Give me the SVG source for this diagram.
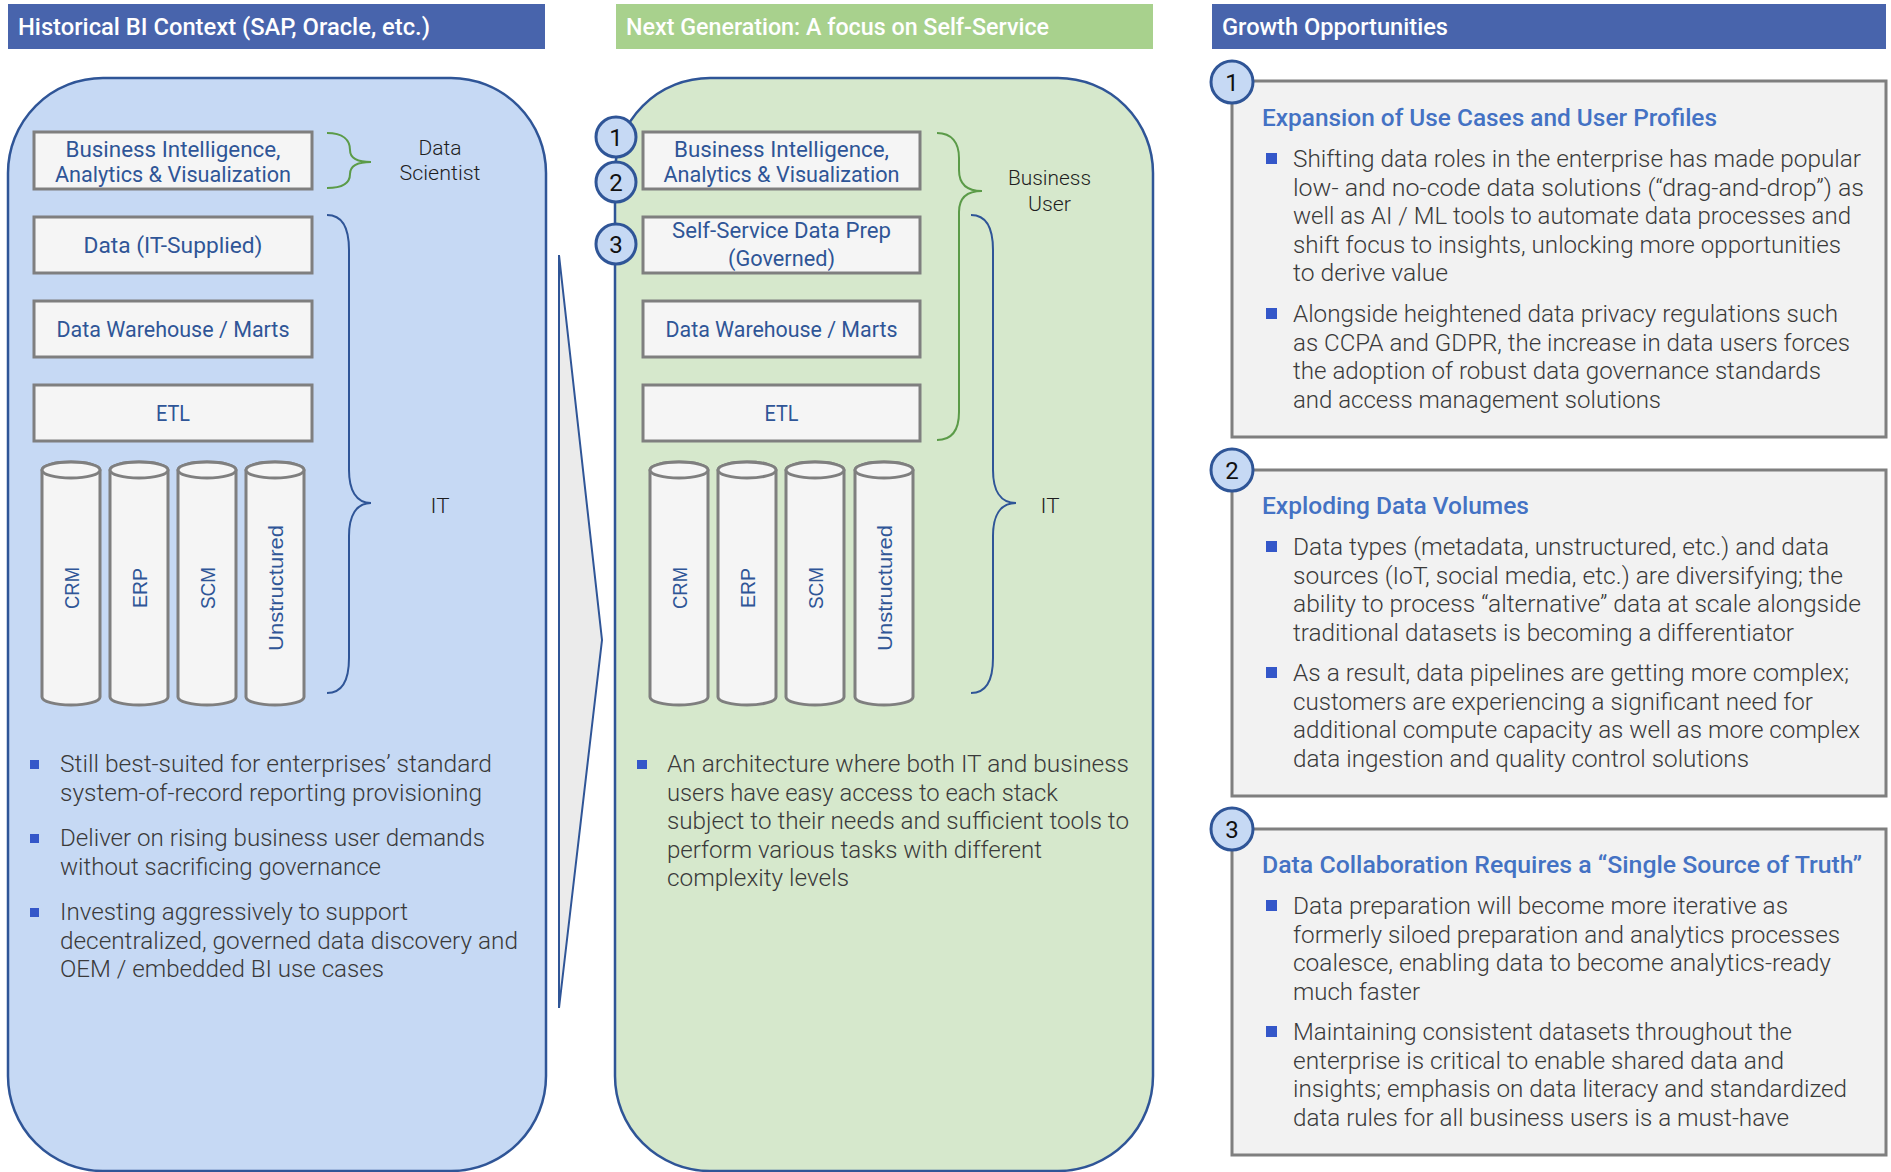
<svg xmlns="http://www.w3.org/2000/svg" width="1891" height="1172" viewBox="0 0 1891 1172">
<defs>
<style>
text{font-family:Roboto,"Liberation Sans",sans-serif}
.hdr{fill:#fff;font-size:24px;font-weight:500}
.panel{stroke:#2f5597;stroke-width:2.5}
.box{fill:#f5f5f5;stroke:#7f7f7f;stroke-width:3}
.lbl{fill:#2f5597;font-size:22.5px;text-anchor:middle}
.cyl{fill:#f5f5f5;stroke:#7f7f7f;stroke-width:3}
.cyt{fill:#2f5597;font-size:21px;text-anchor:middle;font-family:"Liberation Sans",Arial,sans-serif}
.role{fill:#1e1e1e;font-size:21px;font-weight:300;text-anchor:middle}
.body{fill:#3a3a3a;font-size:24px;font-weight:300}
.sq{fill:#3457c9}
.gbr{fill:none;stroke:#5b9b48;stroke-width:2}
.bbr{fill:none;stroke:#2f5597;stroke-width:2}
.num{fill:#c6d9f4;stroke:#2f5597;stroke-width:3}
.numt{fill:#111;font-size:24px;text-anchor:middle}
.obox{fill:#f2f2f2;stroke:#7f7f7f;stroke-width:3}
.ttl{fill:#4472c4;font-size:24px;font-weight:500}
</style>
</defs>
<rect width="1891" height="1172" fill="#fff"/>

<g id="header-historical">
<rect x="8" y="4" width="537" height="45" fill="#4864ac"/>
<text class="hdr" x="18" y="35" textLength="412" lengthAdjust="spacingAndGlyphs">Historical BI Context (SAP, Oracle, etc.)</text>
</g>
<g id="header-nextgen">
<rect x="616" y="4" width="537" height="45" fill="#a8d18d"/>
<text class="hdr" x="626" y="35" textLength="423" lengthAdjust="spacingAndGlyphs">Next Generation: A focus on Self-Service</text>
</g>
<g id="header-growth">
<rect x="1212" y="4" width="674" height="45" fill="#4864ac"/>
<text class="hdr" x="1222" y="35" textLength="226" lengthAdjust="spacingAndGlyphs">Growth Opportunities</text>
</g>

<g id="panel-historical">
<rect class="panel" x="8" y="78" width="538" height="1093" rx="95" ry="95" fill="#c6d9f4"/>
</g>
<g id="panel-nextgen">
<rect class="panel" x="615" y="78" width="538" height="1093" rx="95" ry="95" fill="#d6e8cc"/>
</g>

<g id="transition-arrow">
<polygon points="559,255 602,640 559,1008" fill="#ebebeb" stroke="#2f5597" stroke-width="2" stroke-linejoin="miter"/>
</g>

<!-- Left stack -->
<g id="l-bi">
<rect class="box" x="34" y="132" width="278" height="57"/>
<text class="lbl" x="173" y="157" textLength="215" lengthAdjust="spacingAndGlyphs">Business Intelligence,</text>
<text class="lbl" x="173" y="182" textLength="236" lengthAdjust="spacingAndGlyphs">Analytics &amp; Visualization</text>
</g>
<g id="l-data">
<rect class="box" x="34" y="217" width="278" height="56"/>
<text class="lbl" x="173" y="253" textLength="179" lengthAdjust="spacingAndGlyphs">Data (IT-Supplied)</text>
</g>
<g id="l-dw">
<rect class="box" x="34" y="301" width="278" height="56"/>
<text class="lbl" x="173" y="337" textLength="233" lengthAdjust="spacingAndGlyphs">Data Warehouse / Marts</text>
</g>
<g id="l-etl">
<rect class="box" x="34" y="385" width="278" height="56"/>
<text class="lbl" x="173" y="421" textLength="34" lengthAdjust="spacingAndGlyphs">ETL</text>
</g>
<g id="l-crm">
<path class="cyl" d="M42,470 L42,697 A29,8 0 0 0 100,697 L100,470 A29,8 0 0 0 42,470 Z"/>
<ellipse class="cyl" cx="71" cy="470" rx="29" ry="8"/>
<text class="cyt" transform="translate(71,588) rotate(-90)" y="7.5" textLength="42" lengthAdjust="spacingAndGlyphs">CRM</text>
</g>
<g id="l-erp">
<path class="cyl" d="M110,470 L110,697 A29,8 0 0 0 168,697 L168,470 A29,8 0 0 0 110,470 Z"/>
<ellipse class="cyl" cx="139" cy="470" rx="29" ry="8"/>
<text class="cyt" transform="translate(139,588) rotate(-90)" y="7.5" textLength="40" lengthAdjust="spacingAndGlyphs">ERP</text>
</g>
<g id="l-scm">
<path class="cyl" d="M178,470 L178,697 A29,8 0 0 0 236,697 L236,470 A29,8 0 0 0 178,470 Z"/>
<ellipse class="cyl" cx="207" cy="470" rx="29" ry="8"/>
<text class="cyt" transform="translate(207,588) rotate(-90)" y="7.5" textLength="42" lengthAdjust="spacingAndGlyphs">SCM</text>
</g>
<g id="l-unstructured">
<path class="cyl" d="M246,470 L246,697 A29,8 0 0 0 304,697 L304,470 A29,8 0 0 0 246,470 Z"/>
<ellipse class="cyl" cx="275" cy="470" rx="29" ry="8"/>
<text class="cyt" transform="translate(275,588) rotate(-90)" y="7.5" textLength="126" lengthAdjust="spacingAndGlyphs">Unstructured</text>
</g>
<g id="l-roles">
<path class="gbr" d="M327,133 C343,133 350,140 350,150 C350,157 356,162 371,162 C356,162 350,167 350,174 C350,183 343,188 327,188"/>
<path class="bbr" d="M327,215 C343,215 349,228 349,250 L349,470 C349,490 356,503 371,503 C356,503 349,516 349,536 L349,658 C349,680 343,693 327,693"/>
<text class="role" x="440" y="155" textLength="43" lengthAdjust="spacingAndGlyphs">Data</text>
<text class="role" x="440" y="180" textLength="81" lengthAdjust="spacingAndGlyphs">Scientist</text>
<text class="role" x="440" y="513" textLength="19" lengthAdjust="spacingAndGlyphs">IT</text>
</g>
<g id="l-bullets">
<rect class="sq" x="30" y="760" width="9" height="9"/>
<rect class="sq" x="30" y="834" width="9" height="9"/>
<rect class="sq" x="30" y="908" width="9" height="9"/>
<text class="body" x="60" y="772" textLength="432" lengthAdjust="spacingAndGlyphs">Still best-suited for enterprises’ standard</text>
<text class="body" x="60" y="800.5" textLength="422" lengthAdjust="spacingAndGlyphs">system-of-record reporting provisioning</text>
<text class="body" x="60" y="846" textLength="425" lengthAdjust="spacingAndGlyphs">Deliver on rising business user demands</text>
<text class="body" x="60" y="874.5" textLength="321" lengthAdjust="spacingAndGlyphs">without sacrificing governance</text>
<text class="body" x="60" y="920" textLength="348" lengthAdjust="spacingAndGlyphs">Investing aggressively to support</text>
<text class="body" x="60" y="948.5" textLength="458" lengthAdjust="spacingAndGlyphs">decentralized, governed data discovery and</text>
<text class="body" x="60" y="977" textLength="324" lengthAdjust="spacingAndGlyphs">OEM / embedded BI use cases</text>
</g>

<!-- Middle stack -->
<g id="m-bi">
<rect class="box" x="643" y="132" width="277" height="57"/>
<text class="lbl" x="781.5" y="157" textLength="215" lengthAdjust="spacingAndGlyphs">Business Intelligence,</text>
<text class="lbl" x="781.5" y="182" textLength="236" lengthAdjust="spacingAndGlyphs">Analytics &amp; Visualization</text>
</g>
<g id="m-prep">
<rect class="box" x="643" y="217" width="277" height="56"/>
<text class="lbl" x="781.5" y="238" textLength="219" lengthAdjust="spacingAndGlyphs">Self-Service Data Prep</text>
<text class="lbl" x="781.5" y="266" textLength="107" lengthAdjust="spacingAndGlyphs">(Governed)</text>
</g>
<g id="m-dw">
<rect class="box" x="643" y="301" width="277" height="56"/>
<text class="lbl" x="781.5" y="337" textLength="232" lengthAdjust="spacingAndGlyphs">Data Warehouse / Marts</text>
</g>
<g id="m-etl">
<rect class="box" x="643" y="385" width="277" height="56"/>
<text class="lbl" x="781.5" y="421" textLength="34" lengthAdjust="spacingAndGlyphs">ETL</text>
</g>
<g id="m-crm">
<path class="cyl" d="M650,470 L650,697 A29,8 0 0 0 708,697 L708,470 A29,8 0 0 0 650,470 Z"/>
<ellipse class="cyl" cx="679" cy="470" rx="29" ry="8"/>
<text class="cyt" transform="translate(679,588) rotate(-90)" y="7.5" textLength="42" lengthAdjust="spacingAndGlyphs">CRM</text>
</g>
<g id="m-erp">
<path class="cyl" d="M718,470 L718,697 A29,8 0 0 0 776,697 L776,470 A29,8 0 0 0 718,470 Z"/>
<ellipse class="cyl" cx="747" cy="470" rx="29" ry="8"/>
<text class="cyt" transform="translate(747,588) rotate(-90)" y="7.5" textLength="40" lengthAdjust="spacingAndGlyphs">ERP</text>
</g>
<g id="m-scm">
<path class="cyl" d="M786,470 L786,697 A29,8 0 0 0 844,697 L844,470 A29,8 0 0 0 786,470 Z"/>
<ellipse class="cyl" cx="815" cy="470" rx="29" ry="8"/>
<text class="cyt" transform="translate(815,588) rotate(-90)" y="7.5" textLength="42" lengthAdjust="spacingAndGlyphs">SCM</text>
</g>
<g id="m-unstructured">
<path class="cyl" d="M855,470 L855,697 A29,8 0 0 0 913,697 L913,470 A29,8 0 0 0 855,470 Z"/>
<ellipse class="cyl" cx="884" cy="470" rx="29" ry="8"/>
<text class="cyt" transform="translate(884,588) rotate(-90)" y="7.5" textLength="126" lengthAdjust="spacingAndGlyphs">Unstructured</text>
</g>
<g id="m-roles">
<path class="gbr" d="M937,133 C952,133 959,143 959,158 L959,170 C959,184 966,191 982,191 C966,191 959,198 959,212 L959,412 C959,430 952,440 937,440"/>
<path class="bbr" d="M971,215 C987,215 993,228 993,250 L993,470 C993,490 1000,503 1016,503 C1000,503 993,516 993,536 L993,658 C993,680 987,693 971,693"/>
<text class="role" x="1049.5" y="185" textLength="83" lengthAdjust="spacingAndGlyphs">Business</text>
<text class="role" x="1049.5" y="211" textLength="43" lengthAdjust="spacingAndGlyphs">User</text>
<text class="role" x="1050" y="513" textLength="19" lengthAdjust="spacingAndGlyphs">IT</text>
</g>
<g id="m-markers">
<circle class="num" cx="616" cy="137" r="20"/>
<text class="numt" x="616" y="145.5">1</text>
<circle class="num" cx="616" cy="182" r="20"/>
<text class="numt" x="616" y="190.5">2</text>
<circle class="num" cx="616" cy="244" r="20"/>
<text class="numt" x="616" y="252.5">3</text>
</g>
<g id="m-bullets">
<rect class="sq" x="637" y="760" width="10" height="9"/>
<text class="body" x="667" y="772" textLength="462" lengthAdjust="spacingAndGlyphs">An architecture where both IT and business</text>
<text class="body" x="667" y="800.5" textLength="391" lengthAdjust="spacingAndGlyphs">users have easy access to each stack</text>
<text class="body" x="667" y="829" textLength="462" lengthAdjust="spacingAndGlyphs">subject to their needs and sufficient tools to</text>
<text class="body" x="667" y="857.5" textLength="375" lengthAdjust="spacingAndGlyphs">perform various tasks with different</text>
<text class="body" x="667" y="886" textLength="182" lengthAdjust="spacingAndGlyphs">complexity levels</text>
</g>

<!-- Right opportunities -->
<g id="opp-1">
<rect class="obox" x="1232" y="81" width="654" height="356"/>
<circle class="num" cx="1232" cy="82" r="21"/>
<text class="numt" x="1232" y="90.5">1</text>
<text class="ttl" x="1262" y="126" textLength="455" lengthAdjust="spacingAndGlyphs">Expansion of Use Cases and User Profiles</text>
<rect class="sq" x="1266" y="153" width="11" height="11"/>
<rect class="sq" x="1266" y="308" width="11" height="11"/>
<text class="body" x="1293" y="167" textLength="568" lengthAdjust="spacingAndGlyphs">Shifting data roles in the enterprise has made popular</text>
<text class="body" x="1293" y="195.5" textLength="571" lengthAdjust="spacingAndGlyphs">low- and no-code data solutions (“drag-and-drop”) as</text>
<text class="body" x="1293" y="224" textLength="558" lengthAdjust="spacingAndGlyphs">well as AI / ML tools to automate data processes and</text>
<text class="body" x="1293" y="252.5" textLength="548" lengthAdjust="spacingAndGlyphs">shift focus to insights, unlocking more opportunities</text>
<text class="body" x="1293" y="281" textLength="155" lengthAdjust="spacingAndGlyphs">to derive value</text>
<text class="body" x="1293" y="322" textLength="545" lengthAdjust="spacingAndGlyphs">Alongside heightened data privacy regulations such</text>
<text class="body" x="1293" y="350.5" textLength="557" lengthAdjust="spacingAndGlyphs">as CCPA and GDPR, the increase in data users forces</text>
<text class="body" x="1293" y="379" textLength="528" lengthAdjust="spacingAndGlyphs">the adoption of robust data governance standards</text>
<text class="body" x="1293" y="407.5" textLength="368" lengthAdjust="spacingAndGlyphs">and access management solutions</text>
</g>
<g id="opp-2">
<rect class="obox" x="1232" y="470" width="654" height="326"/>
<circle class="num" cx="1232" cy="470" r="21"/>
<text class="numt" x="1232" y="478.5">2</text>
<text class="ttl" x="1262" y="514" textLength="267" lengthAdjust="spacingAndGlyphs">Exploding Data Volumes</text>
<rect class="sq" x="1266" y="541" width="11" height="11"/>
<rect class="sq" x="1266" y="667" width="11" height="11"/>
<text class="body" x="1293" y="555" textLength="536" lengthAdjust="spacingAndGlyphs">Data types (metadata, unstructured, etc.) and data</text>
<text class="body" x="1293" y="583.5" textLength="550" lengthAdjust="spacingAndGlyphs">sources (IoT, social media, etc.) are diversifying; the</text>
<text class="body" x="1293" y="612" textLength="568" lengthAdjust="spacingAndGlyphs">ability to process “alternative” data at scale alongside</text>
<text class="body" x="1293" y="640.5" textLength="501" lengthAdjust="spacingAndGlyphs">traditional datasets is becoming a differentiator</text>
<text class="body" x="1293" y="681" textLength="556" lengthAdjust="spacingAndGlyphs">As a result, data pipelines are getting more complex;</text>
<text class="body" x="1293" y="709.5" textLength="520" lengthAdjust="spacingAndGlyphs">customers are experiencing a significant need for</text>
<text class="body" x="1293" y="738" textLength="567" lengthAdjust="spacingAndGlyphs">additional compute capacity as well as more complex</text>
<text class="body" x="1293" y="766.5" textLength="456" lengthAdjust="spacingAndGlyphs">data ingestion and quality control solutions</text>
</g>
<g id="opp-3">
<rect class="obox" x="1232" y="829" width="654" height="326"/>
<circle class="num" cx="1232" cy="829" r="21"/>
<text class="numt" x="1232" y="837.5">3</text>
<text class="ttl" x="1262" y="873" textLength="600" lengthAdjust="spacingAndGlyphs">Data Collaboration Requires a “Single Source of Truth”</text>
<rect class="sq" x="1266" y="900" width="11" height="11"/>
<rect class="sq" x="1266" y="1026" width="11" height="11"/>
<text class="body" x="1293" y="914" textLength="495" lengthAdjust="spacingAndGlyphs">Data preparation will become more iterative as</text>
<text class="body" x="1293" y="942.5" textLength="547" lengthAdjust="spacingAndGlyphs">formerly siloed preparation and analytics processes</text>
<text class="body" x="1293" y="971" textLength="538" lengthAdjust="spacingAndGlyphs">coalesce, enabling data to become analytics-ready</text>
<text class="body" x="1293" y="999.5" textLength="127" lengthAdjust="spacingAndGlyphs">much faster</text>
<text class="body" x="1293" y="1040" textLength="499" lengthAdjust="spacingAndGlyphs">Maintaining consistent datasets throughout the</text>
<text class="body" x="1293" y="1068.5" textLength="491" lengthAdjust="spacingAndGlyphs">enterprise is critical to enable shared data and</text>
<text class="body" x="1293" y="1097" textLength="554" lengthAdjust="spacingAndGlyphs">insights; emphasis on data literacy and standardized</text>
<text class="body" x="1293" y="1125.5" textLength="496" lengthAdjust="spacingAndGlyphs">data rules for all business users is a must-have</text>
</g>
</svg>
